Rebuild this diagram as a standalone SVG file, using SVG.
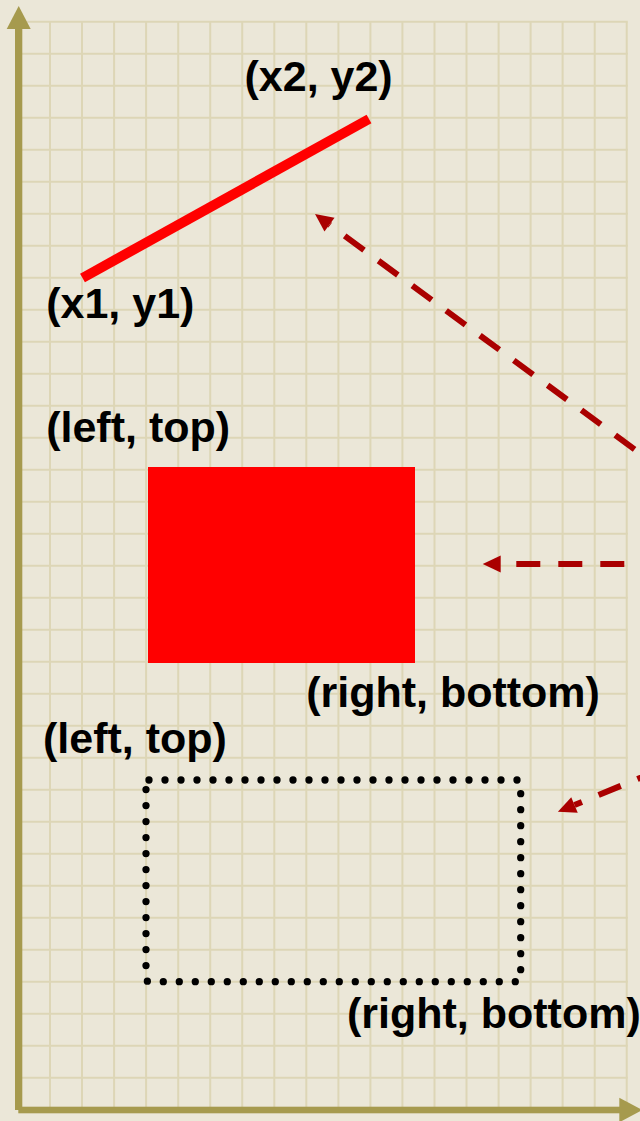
<svg xmlns="http://www.w3.org/2000/svg" width="640" height="1121" viewBox="0 0 640 1121">
  <style>
    .grid { stroke: #ddd6b6; stroke-width: 2; fill: none; }
    .axis { fill: #a69a4e; }
    .lbl { font-family: "Liberation Sans", Arial, sans-serif; font-weight: bold; font-size: 43px; fill: #000000; }
    .conn { stroke: #aa0000; stroke-width: 6; fill: none; stroke-dasharray: 24 18; }
  </style>
  <defs>
    <marker id="ah" markerUnits="userSpaceOnUse" markerWidth="18" markerHeight="17" refX="0" refY="8.5" orient="auto" overflow="visible">
      <path d="M0,0 L18,8.5 L0,17 Z" fill="#aa0000"/>
    </marker>
  </defs>

  <rect x="0" y="0" width="640" height="1121" fill="#ebe7d8"/>

  <g id="grid" class="grid">
    <path d="M50,21.7V1110 M82,21.7V1110 M114.1,21.7V1110 M146.1,21.7V1110 M178.2,21.7V1110 M210.2,21.7V1110 M242.2,21.7V1110 M274.3,21.7V1110 M306.3,21.7V1110 M338.4,21.7V1110 M370.4,21.7V1110 M402.4,21.7V1110 M434.5,21.7V1110 M466.5,21.7V1110 M498.6,21.7V1110 M530.6,21.7V1110 M562.6,21.7V1110 M594.7,21.7V1110 M626.7,21.7V1110"/>
    <path d="M18,21.7H627.7 M18,53.7H627.7 M18,85.7H627.7 M18,117.7H627.7 M18,149.7H627.7 M18,181.7H627.7 M18,213.7H627.7 M18,245.7H627.7 M18,277.7H627.7 M18,309.7H627.7 M18,341.7H627.7 M18,373.7H627.7 M18,405.7H627.7 M18,437.7H627.7 M18,469.7H627.7 M18,501.7H627.7 M18,533.7H627.7 M18,565.7H627.7 M18,597.7H627.7 M18,629.7H627.7 M18,661.7H627.7 M18,693.7H627.7 M18,725.7H627.7 M18,757.7H627.7 M18,789.7H627.7 M18,821.7H627.7 M18,853.7H627.7 M18,885.7H627.7 M18,917.7H627.7 M18,949.7H627.7 M18,981.7H627.7 M18,1013.7H627.7 M18,1045.7H627.7 M18,1077.7H627.7"/>
  </g>

  <g id="axes" class="axis">
    <rect x="15" y="28" width="7.3" height="1082"/>
    <path d="M18.7,6 L30.7,29 L6.7,29 Z"/>
    <rect x="18.3" y="1106.7" width="602" height="6.6"/>
    <path d="M619.3,1097.7 L642.3,1110 L619.3,1122.3 Z"/>
  </g>

  <g id="line-node">
    <line x1="82.5" y1="278" x2="369" y2="119" stroke="#ff0000" stroke-width="10"/>
    <text class="lbl" x="244.5" y="91">(x2, y2)</text>
    <text class="lbl" x="46.2" y="318.3">(x1, y1)</text>
  </g>

  <g id="filled-rect-node">
    <rect x="148" y="467" width="267" height="196" fill="#ff0000"/>
    <text class="lbl" x="46.2" y="441.7">(left, top)</text>
    <text class="lbl" x="306.2" y="706.7">(right, bottom)</text>
  </g>

  <g id="dotted-rect-node">
    <rect x="146" y="780" width="374.7" height="201.7" rx="3" fill="none" stroke="#000000" stroke-width="7.3" stroke-linecap="round" stroke-dasharray="0 16"/>
    <text class="lbl" x="43" y="753">(left, top)</text>
    <text class="lbl" x="347" y="1028">(right, bottom)</text>
  </g>

  <g id="connectors">
    <path class="conn" d="M668.4,474.2 L329.5,224.7" marker-end="url(#ah)"/>
    <path class="conn" d="M624.3,564 L500.7,564" marker-end="url(#ah)"/>
    <path class="conn" d="M698.4,753.8 L574.5,805" marker-end="url(#ah)"/>
  </g>
</svg>
